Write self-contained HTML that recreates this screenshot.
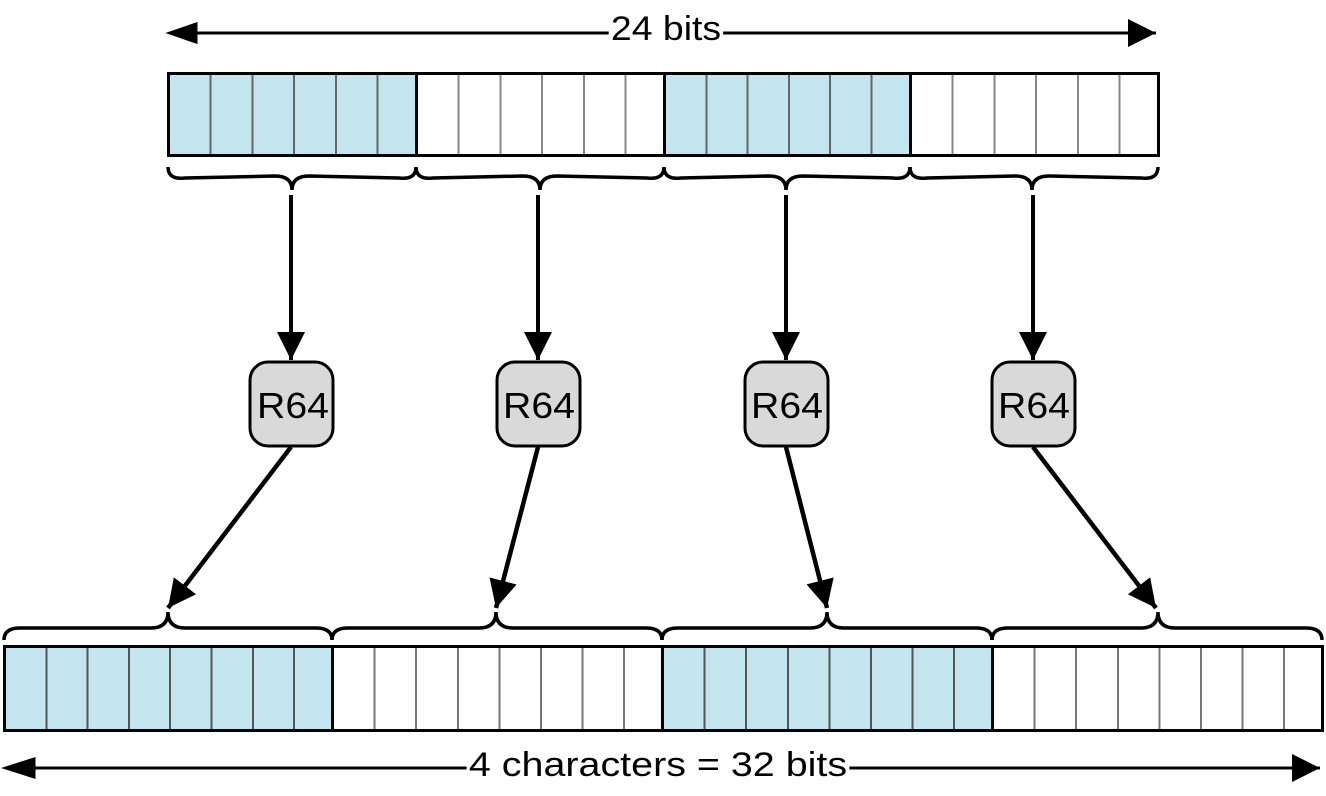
<!DOCTYPE html>
<html><head><style>
body{margin:0;width:1326px;height:796px;background:#fff;position:relative;overflow:hidden;font-family:"Liberation Sans",sans-serif}
.g{position:absolute;box-sizing:border-box;border:3px solid #000}
.lbl{position:absolute;background:#fff;font-size:34px;line-height:36px;padding:0 2px;white-space:nowrap}
</style></head><body>
<svg width="1326" height="796" style="position:absolute;left:0;top:0">
<defs>
<marker id="b" viewBox="0 0 10 10" markerWidth="28" markerHeight="30" refX="10" refY="5" orient="auto" markerUnits="userSpaceOnUse"><path d="M0,0 L10,5 L0,10 z"/></marker></defs>
<g stroke="#000" stroke-width="3" fill="none">
<line x1="172" y1="33" x2="1156" y2="33" marker-end="url(#b)"/>
<path d="M196,24 L170,33 L196,42 z" fill="#000"/>
<line x1="8" y1="768" x2="1320" y2="768" marker-end="url(#b)"/>
<path d="M34,759 L6,768 L34,777 z" fill="#000"/>
<g stroke-width="3.5">
<path d="M168,167 Q168,180 185,178 L275,176 Q292,176 292,190 Q292,176 309,176 L399,178 Q416,180 416,167"/>
<path d="M416,167 Q416,180 433,178 L523,176 Q540,176 540,190 Q540,176 557,176 L647,178 Q664,180 664,167"/>
<path d="M664,167 Q664,180 681,178 L769,176 Q786,176 786,190 Q786,176 803,176 L893,178 Q910,180 910,167"/>
<path d="M910,167 Q910,180 927,178 L1015,176 Q1032,176 1032,190 Q1032,176 1049,176 L1141,178 Q1158,180 1158,167"/>
<path d="M4,640 Q4,628 20,628 L151,628 Q168,628 168,612 Q168,628 185,628 L316,628 Q332,628 332,640"/>
<path d="M332,640 Q332,628 348,628 L479,628 Q496,628 496,612 Q496,628 513,628 L646,628 Q662,628 662,640"/>
<path d="M662,640 Q662,628 678,628 L810,628 Q827,628 827,612 Q827,628 844,628 L976,628 Q992,628 992,640"/>
<path d="M992,640 Q992,628 1008,628 L1141,628 Q1158,628 1158,612 Q1158,628 1175,628 L1306,628 Q1322,628 1322,640"/>
</g>
<line x1="291" y1="195" x2="291" y2="360" stroke-width="4" marker-end="url(#b)"/>
<line x1="538" y1="195" x2="538" y2="360" stroke-width="4" marker-end="url(#b)"/>
<line x1="786" y1="195" x2="786" y2="360" stroke-width="4" marker-end="url(#b)"/>
<line x1="1033" y1="195" x2="1033" y2="360" stroke-width="4" marker-end="url(#b)"/>
<line x1="291" y1="447" x2="168" y2="608" stroke-width="4.5" marker-end="url(#b)"/>
<line x1="538" y1="447" x2="496" y2="608" stroke-width="4.5" marker-end="url(#b)"/>
<line x1="786" y1="447" x2="827" y2="608" stroke-width="4.5" marker-end="url(#b)"/>
<line x1="1033" y1="447" x2="1156" y2="608" stroke-width="4.5" marker-end="url(#b)"/>
</g>
<g fill="#d9d9d9" stroke="#000" stroke-width="3">
<rect x="250" y="362" width="83" height="84" rx="18"/>
<rect x="497" y="362" width="83" height="84" rx="18"/>
<rect x="745" y="362" width="83" height="84" rx="18"/>
<rect x="992" y="362" width="83" height="84" rx="18"/>
</g>
<g font-family="Liberation Sans, sans-serif" font-size="36">
<text x="257" y="418" textLength="72" lengthAdjust="spacingAndGlyphs">R64</text>
<text x="503" y="418" textLength="72" lengthAdjust="spacingAndGlyphs">R64</text>
<text x="751" y="418" textLength="72" lengthAdjust="spacingAndGlyphs">R64</text>
<text x="998" y="418" textLength="72" lengthAdjust="spacingAndGlyphs">R64</text>
</g>
</svg>
<div class="g" style="left:167px;top:72px;width:251px;height:85px;background:#c3e5ef repeating-linear-gradient(90deg,transparent 0 39.7px,#666 39.7px 41.7px)"></div>
<div class="g" style="left:415px;top:72px;width:251px;height:85px;background:#fff repeating-linear-gradient(90deg,transparent 0 39.7px,#888 39.7px 41.7px)"></div>
<div class="g" style="left:663px;top:72px;width:249px;height:85px;background:#c3e5ef repeating-linear-gradient(90deg,transparent 0 39.3px,#666 39.3px 41.3px)"></div>
<div class="g" style="left:909px;top:72px;width:251px;height:85px;background:#fff repeating-linear-gradient(90deg,transparent 0 39.7px,#888 39.7px 41.7px)"></div>
<div class="g" style="left:3px;top:645px;width:331px;height:87px;background:#c3e5ef repeating-linear-gradient(90deg,transparent 0 39.3px,#555 39.3px 41.3px)"></div>
<div class="g" style="left:331px;top:645px;width:333px;height:87px;background:#fff repeating-linear-gradient(90deg,transparent 0 39.6px,#777 39.6px 41.6px)"></div>
<div class="g" style="left:661px;top:645px;width:333px;height:87px;background:#c3e5ef repeating-linear-gradient(90deg,transparent 0 39.6px,#555 39.6px 41.6px)"></div>
<div class="g" style="left:991px;top:645px;width:333px;height:87px;background:#fff repeating-linear-gradient(90deg,transparent 0 39.6px,#777 39.6px 41.6px)"></div>
<div class="lbl" style="left:666px;top:11px;transform:translateX(-50%) scaleX(1.1)">24 bits</div>
<div class="lbl" style="left:658px;top:747px;transform:translateX(-50%) scaleX(1.16)">4 characters = 32 bits</div>
</body></html>
